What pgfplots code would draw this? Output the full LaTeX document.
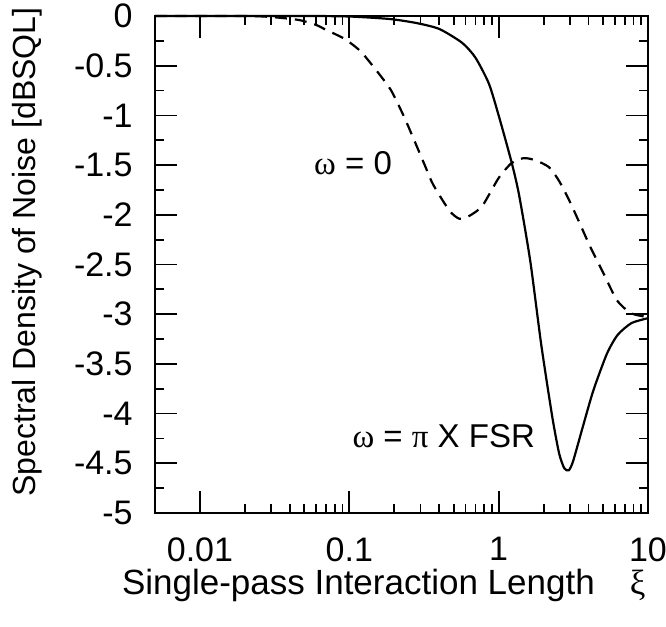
\documentclass[border=0pt]{standalone}
\usepackage{fontspec}
\setmainfont{Liberation Sans}
\newfontfamily\grk{Liberation Serif}
\usepackage{pgfplots}
\pgfplotsset{compat=1.18}
\begin{document}
\begin{tikzpicture}
\useasboundingbox (-77.5pt,-57pt) rectangle (255.5pt,256.5pt);
\begin{axis}[
at={(0,0)}, anchor=south west,
scale only axis,
width=246.5pt, height=248.5pt,
xmode=log,
xmin=0.005, xmax=10,
ymin=-5, ymax=0,
xtick={0.01,0.1,1,10},
xticklabels={0.01,0.1,1,10},
ytick={0,-0.5,...,-5},
minor y tick num=1,
tick align=inside,
major tick length=11pt,
minor tick length=4.5pt,
axis line style={line width=1.4pt},
every tick/.style={black, line width=0.9pt},
/pgf/number format/assume math mode=true,
tick label style={font=\fontsize{17}{20}\selectfont, inner sep=0pt},
xticklabel style={yshift=-12pt},
yticklabel style={xshift=-11pt},
xlabel={Single-pass Interaction Length\quad{\grk ξ}},
xlabel style={at={(axis description cs:0.464,-0.164)}, anchor=base, font=\fontsize{17.5}{20}\selectfont},
ylabel={Spectral Density of Noise [dBSQL]},
ylabel style={at={(axis description cs:-0.26,0.525)}, anchor=center, font=\fontsize{16}{19}\selectfont},
clip=false,
]
\addplot[black, line width=1.1pt, smooth, tension=0.4] coordinates {
(0.005,0) (0.05,0) (0.1,-0.005) (0.186,-0.03) (0.28,-0.07) (0.40,-0.13)
(0.57,-0.27) (0.70,-0.42) (0.86,-0.68) (1.0,-1.0) (1.22,-1.47) (1.37,-1.80)
(1.63,-2.47) (1.93,-3.31) (2.29,-4.04) (2.54,-4.40) (2.75,-4.55) (2.95,-4.57)
(3.15,-4.48) (3.65,-4.14) (4.3,-3.77) (5.3,-3.40) (6.25,-3.21) (7.74,-3.09)
(10,-3.04)
};
\addplot[black, line width=1.1pt, dash pattern=on 6pt off 4pt, smooth, tension=0.4] coordinates {
(0.005,0) (0.02,0) (0.030,-0.01) (0.046,-0.04) (0.060,-0.09) (0.070,-0.14)
(0.093,-0.23) (0.118,-0.35) (0.145,-0.51) (0.189,-0.74) (0.232,-1.01)
(0.272,-1.25) (0.32,-1.50) (0.357,-1.67) (0.40,-1.80) (0.475,-1.97)
(0.547,-2.04) (0.638,-2.01) (0.778,-1.91) (1.0,-1.63) (1.22,-1.48)
(1.47,-1.43) (1.75,-1.45) (2.17,-1.52) (2.54,-1.66) (2.98,-1.86)
(3.5,-2.09) (4.1,-2.32) (5.04,-2.59) (6.2,-2.86) (7.7,-2.99) (10,-3.03)
};
\node[anchor=east, font=\fontsize{16.5}{19}\selectfont] at (axis cs:0.215,-1.48) {{\grk ω} = 0};
\node[anchor=east, font=\fontsize{16.5}{19}\selectfont] at (axis cs:1.95,-4.23) {{\grk ω} = {\grk π} X FSR};
\end{axis}
\end{tikzpicture}
\end{document}
